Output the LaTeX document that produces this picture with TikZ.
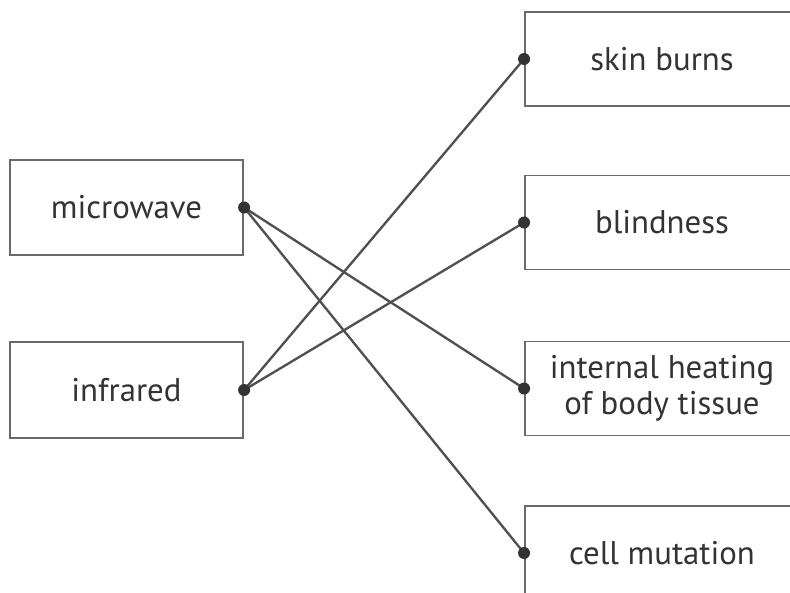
\documentclass[tikz,border=0pt]{standalone}
\usepackage{fontspec}
\setmainfont{PT Sans}
\usepackage{tikz}

\definecolor{boxgray}{HTML}{6A6A6A}
\definecolor{linegray}{HTML}{505050}
\definecolor{txtgray}{HTML}{333333}

\begin{document}
\begin{tikzpicture}[x=0.03cm, y=-0.03cm]
    \tikzstyle{srcbox} = [rectangle, draw=boxgray, line width=1.6pt, text=txtgray, font=\fontsize{28}{30.7}\selectfont, minimum width=7cm, minimum height=2.86cm, inner sep=0pt]
    \tikzstyle{effbox} = [rectangle, draw=boxgray, line width=1.6pt, text=txtgray, font=\fontsize{28}{30.7}\selectfont, align=center, minimum width=8.22cm, minimum height=2.82cm, inner sep=0pt]
    \tikzstyle{endpt} = [circle, fill=black!80, inner sep=0pt, minimum size=0.36cm]
    \tikzstyle{link} = [draw=linegray, line width=2pt]

    \useasboundingbox (0,0) rectangle (790,592);
    \clip (0,0) rectangle (790,592);

    % Radiation
    \node[srcbox] (mw) at (126.5,207.5) {microwave};
    \node[srcbox] (ir) at (126.5,390) {infrared};

    % Effects
    \node[effbox] (sb) at (662,59) {skin burns};
    \node[effbox] (bl) at (662,222.5) {blindness};
    \node[effbox] (ih) at (662,388.5) {internal heating\\of body tissue};
    \node[effbox] (cm) at (662,553) {cell mutation};

    % Lines
    \draw[link] (mw.east) -- (ih.west);
    \draw[link] (mw.east) -- (cm.west);
    \draw[link] (ir.east) -- (sb.west);
    \draw[link] (ir.east) -- (bl.west);

    % Dots
    \node[endpt] (d1) at (mw.east) {};
    \node[endpt] (d2) at (ir.east) {};
    \node[endpt] (d3) at (sb.west) {};
    \node[endpt] (d4) at (bl.west) {};
    \node[endpt] (d5) at (ih.west) {};
    \node[endpt] (d6) at (cm.west) {};
\end{tikzpicture}
\end{document}
